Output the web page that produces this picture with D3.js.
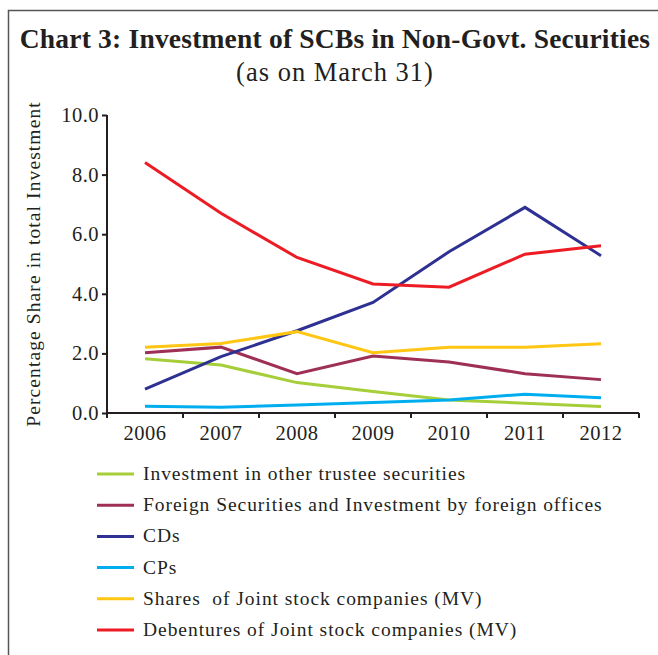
<!DOCTYPE html>
<html>
<head>
<meta charset="utf-8">
<script src="https://cdn.jsdelivr.net/npm/d3@7"></script>
<style>
  body { margin: 0; background: #fff; }
  svg text { font-family: "Liberation Serif", "DejaVu Serif", serif; fill: #231f20; }
</style>
</head>
<body>
<div id="chart"></div>
<script>
/////////////////////
// DATA            //
/////////////////////

var years = ['2006', '2007', '2008', '2009', '2010', '2011', '2012'];
var yTicks = [0, 2, 4, 6, 8, 10];

var seriesNames = [
    'Investment in other trustee securities',
    'Foreign Securities and Investment by foreign offices',
    'CDs',
    'CPs',
    'Shares  of Joint stock companies (MV)',
    'Debentures of Joint stock companies (MV)'
];
var seriesColors = ['#a6ce39', '#9e2f55', '#2e3192', '#00aeef', '#ffc614', '#ed1c24'];

var trustee    = [1.82, 1.61, 1.02, 0.72, 0.44, 0.33, 0.22];
var foreign    = [2.02, 2.21, 1.32, 1.91, 1.71, 1.32, 1.12];
var cds        = [0.80, 1.89, 2.76, 3.71, 5.41, 6.90, 5.28];
var cps        = [0.23, 0.19, 0.27, 0.35, 0.44, 0.63, 0.51];
var shares     = [2.21, 2.33, 2.73, 2.02, 2.21, 2.21, 2.32];
var debentures = [8.41, 6.70, 5.22, 4.33, 4.22, 5.33, 5.61];

var seriesValues = [trustee, foreign, cds, cps, shares, debentures];

//////////////////
// SVG          //
//////////////////

var W = 658, H = 655;
var svg = d3.select('#chart').append('svg')
    .attr('width', W)
    .attr('height', H);

// frame (top + left only)
svg.append('path')
    .attr('d', 'M8.5,' + H + 'V10.5H' + W)
    .attr('fill', 'none')
    .attr('stroke', '#555')
    .attr('stroke-width', 1.5);

// titles
svg.append('text')
    .attr('x', 335).attr('y', 48)
    .attr('text-anchor', 'middle')
    .style('font-size', '27.5px')
    .style('font-weight', 'bold')
    .style('letter-spacing', '0.2px')
    .text('Chart 3: Investment of SCBs in Non-Govt. Securities');

svg.append('text')
    .attr('x', 335).attr('y', 81)
    .attr('text-anchor', 'middle')
    .style('font-size', '26.5px')
    .style('letter-spacing', '1px')
    .text('(as on March 31)');

////////////
// SCALES //
////////////

var x = d3.scaleBand().domain(years).range([107, 639]);
var y = d3.scaleLinear().domain([0, 10]).range([413, 115]);

//////////
// AXES //
//////////

var yAxis = svg.append('g')
    .attr('transform', 'translate(107,0)')
    .call(d3.axisLeft(y).tickValues(yTicks).tickSize(5).tickPadding(3).tickFormat(d3.format('.1f')));

var xAxis = svg.append('g')
    .attr('transform', 'translate(0,413)')
    .call(d3.axisBottom(x).tickSize(0).tickPadding(12));

// tick marks on the band boundaries
xAxis.selectAll('.boundary')
    .data(years.concat(['end']))
    .enter()
    .append('line')
    .attr('class', 'boundary')
    .attr('x1', function(d, i) { return 107 + i * x.step(); })
    .attr('x2', function(d, i) { return 107 + i * x.step(); })
    .attr('y1', 0).attr('y2', 5);

svg.selectAll('.domain, .tick line, .boundary')
    .attr('stroke', '#231f20')
    .attr('stroke-width', 2);
yAxis.select('.domain').attr('d', 'M0,115V413');
xAxis.select('.domain').attr('d', 'M107,0H639');

svg.selectAll('.tick text')
    .style('font-size', '20.5px')
    .style('letter-spacing', '0.5px')
    .attr('fill', '#231f20');

svg.append('text')
    .attr('transform', 'translate(40,264) rotate(-90)')
    .attr('text-anchor', 'middle')
    .style('font-size', '19.5px')
    .style('letter-spacing', '1.1px')
    .text('Percentage Share in total Investment');

///////////
// LINES //
///////////

var line = d3.line()
    .x(function(d, i) { return x(years[i]) + x.bandwidth() / 2; })
    .y(function(d) { return y(d); });

svg.selectAll('.series')
    .data(seriesValues)
    .enter()
    .append('path')
    .attr('class', 'series')
    .attr('d', line)
    .attr('fill', 'none')
    .attr('stroke', function(d, i) { return seriesColors[i]; })
    .attr('stroke-width', 3);

////////////
// LEGEND //
////////////

var legend = svg.selectAll('.legend')
    .data(seriesNames)
    .enter()
    .append('g')
    .attr('class', 'legend')
    .attr('transform', function(d, i) { return 'translate(97,' + (474 + i * 31.2) + ')'; });

legend.append('line')
    .attr('x1', 0).attr('x2', 37)
    .attr('stroke', function(d, i) { return seriesColors[i]; })
    .attr('stroke-width', 3);

legend.append('text')
    .attr('x', 46).attr('y', 6)
    .style('font-size', '19.5px')
    .style('letter-spacing', '0.95px')
    .style('white-space', 'pre')
    .text(function(d) { return d; });
</script>
</body>
</html>
